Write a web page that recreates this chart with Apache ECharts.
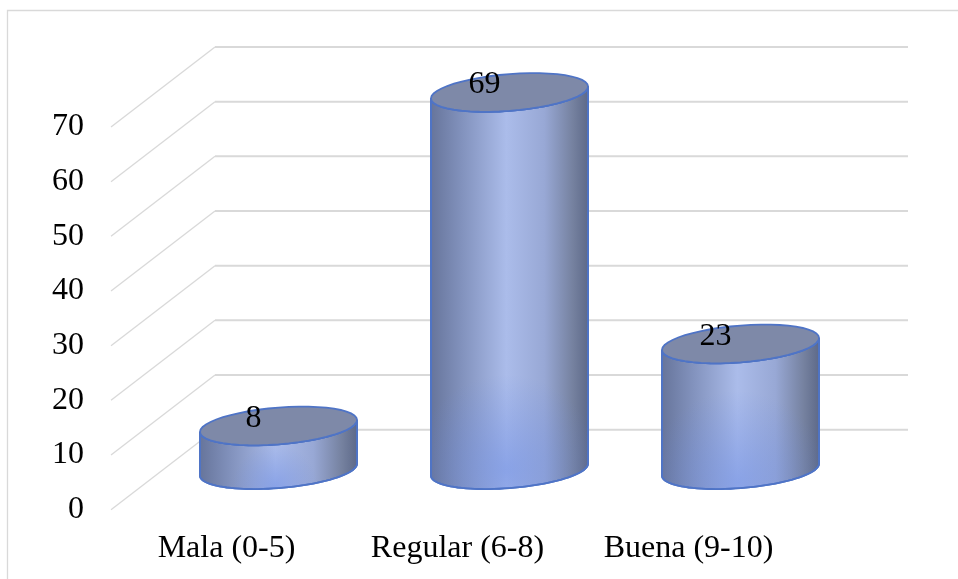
<!DOCTYPE html>
<html>
<head>
<meta charset="utf-8">
<style>html,body{margin:0;padding:0;background:#fff}#c{width:958px;height:579px}</style>
<script src="https://cdn.jsdelivr.net/npm/echarts@6/dist/echarts.min.js"></script>
</head>
<body>
<div id="c"></div>
<script>
const categories = ['Mala (0-5)', 'Regular (6-8)', 'Buena (9-10)'];
const values = [8, 69, 23];
const yTicks = [0, 10, 20, 30, 40, 50, 60, 70];

const DEPTH_X = 104, DEPTH_Y = 80, GRID_COLOR = '#d9d9d9', FONT = '"Liberation Serif", serif';
const chart = echarts.init(document.getElementById('c'));

function ellipseArc(cx, cy, a, b, s, from, to) {
  const pts = [], n = 48;
  for (let i = 0; i <= n; i++) {
    const t = from + (to - from) * i / n;
    pts.push([cx + a * Math.cos(t), cy + b * Math.sin(t) - s * Math.cos(t)]);
  }
  return pts;
}

function renderGrid(params, api) {
  const p = api.coord([0, api.value(1)]);
  const cs = params.coordSys;
  const x0 = cs.x, x1 = cs.x + DEPTH_X, x2 = cs.x + cs.width + DEPTH_X;
  const y0 = p[1], y1 = p[1] - DEPTH_Y;
  return { type: 'group', children: [
    { type: 'line', shape: { x1: x0, y1: y0, x2: x1, y2: y1 }, style: { stroke: GRID_COLOR, lineWidth: 1.3 } },
    { type: 'line', shape: { x1: x1, y1: y1, x2: x2, y2: y1 }, style: { stroke: GRID_COLOR, lineWidth: 2 } }
  ]};
}

function renderCylinder(params, api) {
  const top = api.coord([api.value(0), api.value(1)]);
  const base = api.coord([api.value(0), 0]);
  const a = api.size([1, 0])[0] * 0.34;
  const b = 18.4, s = 6;
  const cx = top[0] + DEPTH_X / 2, topY = top[1] - DEPTH_Y / 2, baseY = base[1] - DEPTH_Y / 2;
  const bodyPts = ellipseArc(cx, baseY, a, b, s, Math.PI, 0)
    .concat(ellipseArc(cx, topY, a, b, s, 0, Math.PI));
  const stroke = '#4f74c6';
  return { type: 'group', children: [
    { type: 'polygon', shape: { points: bodyPts }, style: {
      fill: new echarts.graphic.LinearGradient(0, 0, 1, 0, [
        { offset: 0, color: '#66749a' }, { offset: 0.2, color: '#8292bd' },
        { offset: 0.48, color: '#abbcea' }, { offset: 0.72, color: '#98a8d5' },
        { offset: 0.9, color: '#75819f' }, { offset: 1, color: '#5c6888' }
      ]), stroke: stroke, lineWidth: 1.8 } },
    { type: 'polygon', shape: { points: bodyPts }, style: {
      fill: new echarts.graphic.RadialGradient(0.48, 0.95, 0.6, [
        { offset: 0, color: 'rgba(105,138,228,0.5)' }, { offset: 1, color: 'rgba(105,138,228,0)' }
      ]), stroke: stroke, lineWidth: 1.8 } },
    { type: 'polygon', shape: { points: ellipseArc(cx, topY, a, b, s, 0, Math.PI * 2) },
      style: { fill: '#7e89a8', stroke: stroke, lineWidth: 1.8 } },
    { type: 'text', style: { x: cx - 25, y: topY - 7.5, text: String(api.value(1)),
      font: '32px ' + FONT, fill: '#000', align: 'center', verticalAlign: 'middle' } }
  ]};
}

chart.setOption({
  animation: false,
  backgroundColor: '#fff',
  graphic: [{ type: 'polyline', silent: true, z: 0,
    shape: { points: [[7.5, 579], [7.5, 10.5], [958, 10.5]] },
    style: { stroke: '#d9d9d9', fill: null, lineWidth: 1.3 } }],
  grid: { left: 111, top: 127, width: 693, height: 382.7 },
  xAxis: { type: 'category', data: categories,
    axisLine: { show: false }, axisTick: { show: false }, splitLine: { show: false },
    axisLabel: { fontFamily: 'Liberation Serif', fontSize: 32, color: '#000', margin: 23, interval: 0 } },
  yAxis: { type: 'value', min: 0, max: 70, interval: 10,
    axisLine: { show: false }, axisTick: { show: false }, splitLine: { show: false },
    axisLabel: { fontFamily: 'Liberation Serif', fontSize: 32, color: '#000', margin: 27, padding: [5, 0, 0, 0] } },
  series: [
    { type: 'custom', name: 'grid', silent: true, z: 1, renderItem: renderGrid, clip: false,
      data: yTicks.map(v => [0, v]) },
    { type: 'custom', name: 'values', silent: true, z: 2, renderItem: renderCylinder, clip: false,
      data: values.map((v, i) => [i, v]) }
  ]
});
</script>
</body>
</html>
